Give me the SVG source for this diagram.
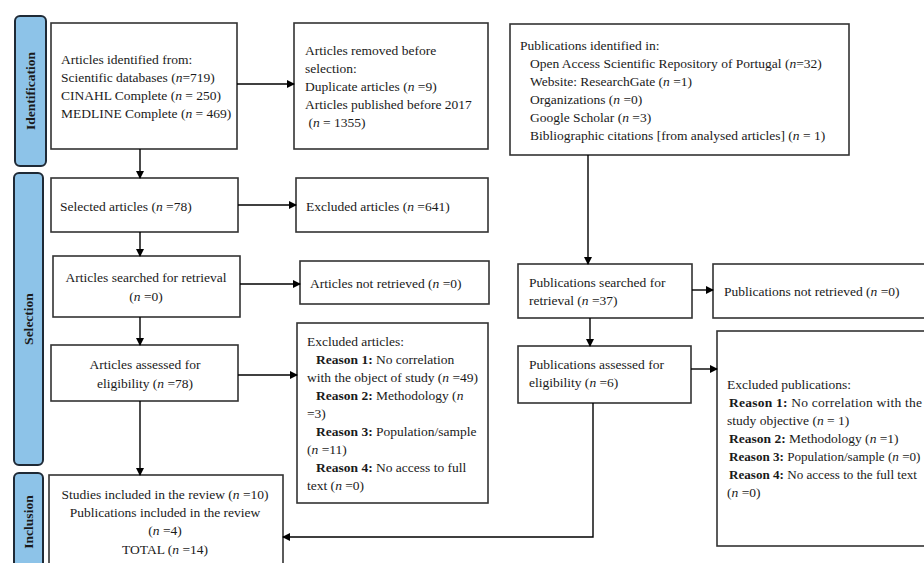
<svg xmlns="http://www.w3.org/2000/svg" width="924" height="563" viewBox="0 0 924 563">
<defs>
<marker id="ah" markerWidth="8" markerHeight="8" refX="7" refY="4" orient="auto" markerUnits="userSpaceOnUse">
<path d="M0,0 L8,4 L0,8 Z" fill="#000"/>
</marker>
<style>
.bar{fill:#8DC3E8;stroke:#1f2a36;stroke-width:2}
.bt{font-family:"Liberation Serif",serif;font-size:13.5px;font-weight:bold;fill:#1a1a1a}
.box{fill:#fff;stroke:#333;stroke-width:1.6}
text{font-family:"Liberation Serif",serif;font-size:13.5px;fill:#1a1a1a}
.c{text-anchor:middle}
.b{font-weight:bold}
.sm{font-size:13.1px}
.con{fill:none;stroke:#000;stroke-width:1.4}
</style>
</defs>
<rect width="924" height="563" fill="#fff"/>

<g id="bar-identification">
<rect class="bar" x="15" y="16" width="31" height="150" rx="5"/>
<text class="bt c" transform="translate(35,91) rotate(-90)">Identification</text>
</g>
<g id="bar-selection">
<rect class="bar" x="14" y="173" width="29" height="292" rx="5"/>
<text class="bt c" transform="translate(33,319) rotate(-90)">Selection</text>
</g>
<g id="bar-inclusion">
<rect class="bar" x="14" y="473" width="29" height="100" rx="5"/>
<text class="bt c" transform="translate(33,522) rotate(-90)">Inclusion</text>
</g>

<g id="identified">
<rect class="box" x="51" y="23" width="186" height="126"/>
<text x="61" y="64">Articles identified from:</text>
<text x="61" y="82">Scientific databases (<tspan font-style="italic">n</tspan>=719)</text>
<text x="61" y="100">CINAHL Complete (<tspan font-style="italic">n</tspan> = 250)</text>
<text x="61" y="118">MEDLINE Complete (<tspan font-style="italic">n</tspan> = 469)</text>
</g>
<g id="removed">
<rect class="box" x="294" y="23" width="194" height="126"/>
<text x="305" y="55">Articles removed before</text>
<text x="305" y="73">selection:</text>
<text x="305" y="91">Duplicate articles (<tspan font-style="italic">n</tspan> =9)</text>
<text x="305" y="109">Articles published before 2017</text>
<text x="305" y="127" xml:space="preserve"> (<tspan font-style="italic">n</tspan> = 1355)</text>
</g>
<g id="pub-identified">
<rect class="box" x="510" y="24" width="339" height="131"/>
<text x="520" y="50">Publications identified in:</text>
<text x="530" y="68">Open Access Scientific Repository of Portugal (<tspan font-style="italic">n</tspan>=32)</text>
<text x="530" y="86">Website: ResearchGate (<tspan font-style="italic">n</tspan> =1)</text>
<text x="530" y="104">Organizations (<tspan font-style="italic">n</tspan> =0)</text>
<text x="530" y="122">Google Scholar (<tspan font-style="italic">n</tspan> =3)</text>
<text x="530" y="140">Bibliographic citations [from analysed articles] (<tspan font-style="italic">n</tspan> = 1)</text>
</g>
<g id="selected">
<rect class="box" x="51" y="178" width="187" height="54"/>
<text x="60" y="211">Selected articles (<tspan font-style="italic">n</tspan> =78)</text>
</g>
<g id="excluded641">
<rect class="box" x="296" y="178" width="192" height="54"/>
<text x="306" y="211">Excluded articles (<tspan font-style="italic">n</tspan> =641)</text>
</g>
<g id="searched">
<rect class="box" x="53" y="256" width="187" height="61"/>
<text class="c" x="146" y="282">Articles searched for retrieval</text>
<text class="c" x="146" y="301">(<tspan font-style="italic">n</tspan> =0)</text>
</g>
<g id="not-retrieved">
<rect class="box" x="300" y="261" width="189" height="43"/>
<text x="310" y="288">Articles not retrieved (<tspan font-style="italic">n</tspan> =0)</text>
</g>
<g id="assessed">
<rect class="box" x="51" y="345" width="187" height="56"/>
<text class="c" x="145" y="369">Articles assessed for</text>
<text class="c" x="145" y="388">eligibility (<tspan font-style="italic">n</tspan> =78)</text>
</g>
<g id="excluded-articles">
<rect class="box" x="297" y="323" width="191" height="180"/>
<text x="307" y="346">Excluded articles:</text>
<text x="316" y="364"><tspan class="b">Reason 1:</tspan> No correlation</text>
<text x="307" y="382">with the object of study (<tspan font-style="italic">n</tspan> =49)</text>
<text x="316" y="400"><tspan class="b">Reason 2:</tspan> Methodology (<tspan font-style="italic">n</tspan></text>
<text x="307" y="418">=3)</text>
<text x="316" y="436"><tspan class="b">Reason 3:</tspan> Population/sample</text>
<text x="307" y="454">(<tspan font-style="italic">n</tspan> =11)</text>
<text x="316" y="472"><tspan class="b">Reason 4:</tspan> No access to full</text>
<text x="307" y="490">text (<tspan font-style="italic">n</tspan> =0)</text>
</g>
<g id="included">
<rect class="box" x="49" y="475" width="234" height="100"/>
<text class="c" x="165" y="499">Studies included in the review (<tspan font-style="italic">n</tspan> =10)</text>
<text class="c" x="165" y="517">Publications included in the review</text>
<text class="c" x="165" y="535">(<tspan font-style="italic">n</tspan> =4)</text>
<text class="c" x="165" y="554">TOTAL (<tspan font-style="italic">n</tspan> =14)</text>
</g>
<g id="pub-searched">
<rect class="box" x="518" y="264" width="174" height="54"/>
<text x="529" y="287">Publications searched for</text>
<text x="529" y="305">retrieval (<tspan font-style="italic">n</tspan> =37)</text>
</g>
<g id="pub-not-retrieved">
<rect class="box" x="713" y="264" width="220" height="54"/>
<text x="724" y="296">Publications not retrieved (<tspan font-style="italic">n</tspan> =0)</text>
</g>
<g id="pub-assessed">
<rect class="box" x="518" y="346" width="173" height="57"/>
<text x="529" y="369">Publications assessed for</text>
<text x="529" y="387">eligibility (<tspan font-style="italic">n</tspan> =6)</text>
</g>
<g id="pub-excluded">
<rect class="box" x="717" y="331" width="216" height="215"/>
<text x="727" y="389">Excluded publications:</text>
<text x="729" y="407" textLength="193" lengthAdjust="spacing"><tspan class="b">Reason 1:</tspan> No correlation with the</text>
<text x="727" y="425">study objective (<tspan font-style="italic">n</tspan> = 1)</text>
<text x="729" y="443"><tspan class="b">Reason 2:</tspan> Methodology (<tspan font-style="italic">n</tspan> =1)</text>
<text class="sm" x="729" y="461"><tspan class="b">Reason 3:</tspan> Population/sample (<tspan font-style="italic">n</tspan> =0)</text>
<text class="sm" x="729" y="479"><tspan class="b">Reason 4:</tspan> No access to the full text</text>
<text x="727" y="497">(<tspan font-style="italic">n</tspan> =0)</text>
</g>

<g id="connectors">
<path class="con" d="M237,84 H294" marker-end="url(#ah)"/>
<path class="con" d="M140,149 V178" marker-end="url(#ah)"/>
<path class="con" d="M238,205 H296" marker-end="url(#ah)"/>
<path class="con" d="M140,232 V256" marker-end="url(#ah)"/>
<path class="con" d="M240,284 H300" marker-end="url(#ah)"/>
<path class="con" d="M140,317 V345" marker-end="url(#ah)"/>
<path class="con" d="M238,375 H297" marker-end="url(#ah)"/>
<path class="con" d="M140,401 V475" marker-end="url(#ah)"/>
<path class="con" d="M588,155 V264" marker-end="url(#ah)"/>
<path class="con" d="M692,290 H713" marker-end="url(#ah)"/>
<path class="con" d="M590,318 V346" marker-end="url(#ah)"/>
<path class="con" d="M691,369 H717" marker-end="url(#ah)"/>
<path class="con" d="M593,403 V537 H283" marker-end="url(#ah)"/>
</g>
</svg>
